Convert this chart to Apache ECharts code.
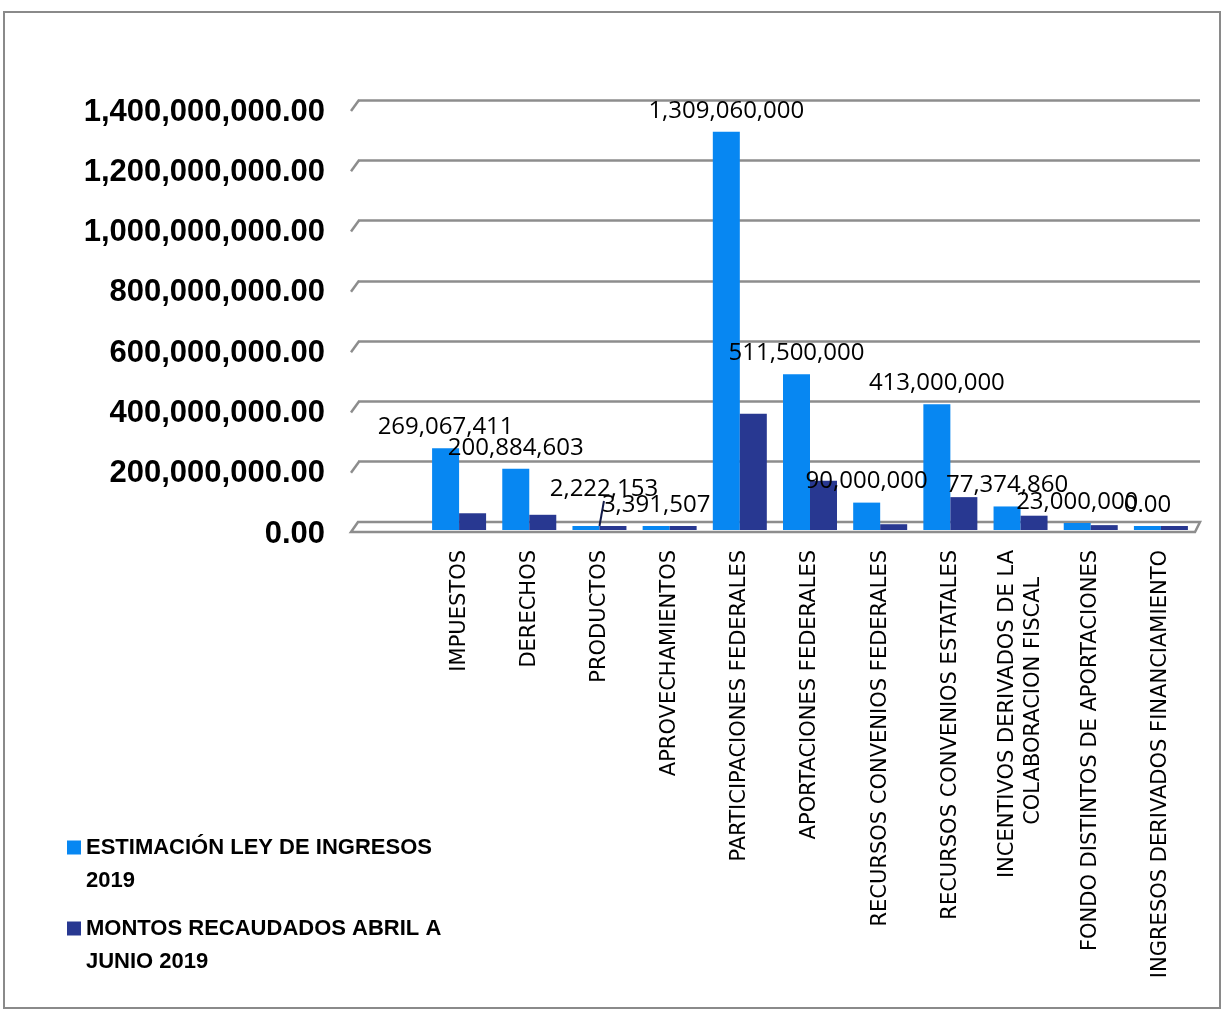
<!DOCTYPE html>
<html>
<head>
<meta charset="utf-8">
<script src="https://cdn.jsdelivr.net/npm/echarts@6/dist/echarts.min.js"></script>
<style>
html,body{margin:0;padding:0;background:#fff;}
#chart{width:1222px;height:1010px;}
</style>
</head>
<body>
<div id="chart"></div>
<script>
const categories = [
  'IMPUESTOS', 'DERECHOS', 'PRODUCTOS', 'APROVECHAMIENTOS',
  'PARTICIPACIONES FEDERALES', 'APORTACIONES FEDERALES',
  'RECURSOS CONVENIOS FEDERALES', 'RECURSOS CONVENIOS ESTATALES',
  'INCENTIVOS DERIVADOS DE LA\nCOLABORACION FISCAL\u00A0\u00A0\u00A0\u00A0',
  'FONDO DISTINTOS DE APORTACIONES', 'INGRESOS DERIVADOS FINANCIAMIENTO'
];
const estimacion = [269067411, 200884603, 2222153, 3391507, 1309060000, 511500000, 90000000, 413000000, 77374860, 23000000, 0];
const recaudado = [55000000, 50000000, 1500000, 1200000, 382000000, 162000000, 19000000, 108000000, 47000000, 16000000, 500000];
const yMin = 0, yMax = 1400000000, yInterval = 200000000;
const seriesNames = ['ESTIMACIÓN LEY DE INGRESOS 2019', 'MONTOS RECAUDADOS ABRIL A JUNIO 2019'];
const legendLabels = ['\nESTIMACIÓN LEY DE INGRESOS\n2019', '\nMONTOS RECAUDADOS ABRIL A\nJUNIO 2019'];

const BLUE = '#0787F2';
const NAVY = '#283891';
const GRID = '#8d8d8d';

const chart = echarts.init(document.getElementById('chart'), null, {renderer: 'canvas'});

const legendBase = {
  orient: 'vertical', left: 67, padding: 0, icon: 'rect', itemWidth: 14, itemHeight: 14,
  selectedMode: false,
  formatter: n => legendLabels[seriesNames.indexOf(n)],
  textStyle: {fontFamily: 'Liberation Sans', fontWeight: 'bold', fontSize: 22, color: '#000', lineHeight: 33}
};

const blueData = estimacion.map((v, i) => i === 2 ? {value: v, labelLine: {show: true}} : v);

chart.setOption({
  animation: false,
  backgroundColor: '#fff',
  legend: [
    Object.assign({}, legendBase, {data: [seriesNames[0]], top: 798}),
    Object.assign({}, legendBase, {data: [seriesNames[1]], top: 879})
  ],
  grid: [
    {left: 358, right: 22, top: 100, bottom: 488},
    {left: 424, right: 26, top: 104, bottom: 480},
    {left: 358, right: 22, top: 112, bottom: 476}
  ],
  xAxis: [
    {gridIndex: 0, type: 'value', min: 0, max: 1, show: false},
    {gridIndex: 1, type: 'category', data: categories,
      axisLine: {show: false}, axisTick: {show: false},
      axisLabel: {interval: 0, rotate: 90, margin: 20, fontFamily: 'DejaVu Sans', fontSize: 21, color: '#000', lineHeight: 26}},
    {gridIndex: 2, type: 'value', min: 0, max: 1, show: false}
  ],
  yAxis: [
    {gridIndex: 0, type: 'value', min: yMin, max: yMax, interval: yInterval,
      axisLine: {show: false}, axisTick: {show: false}, axisLabel: {show: false},
      splitLine: {show: true, lineStyle: {color: GRID, width: 2.5}}},
    {gridIndex: 1, type: 'value', min: yMin, max: yMax, interval: yInterval, show: false, splitLine: {show: false}},
    {gridIndex: 2, type: 'value', min: yMin, max: yMax, interval: yInterval,
      axisLine: {show: false}, axisTick: {show: false}, splitLine: {show: false},
      axisLabel: {margin: 33, fontFamily: 'Liberation Sans', fontWeight: 'bold', fontSize: 31, color: '#000',
        formatter: v => v.toLocaleString('en-US', {minimumFractionDigits: 2, maximumFractionDigits: 2})}}
  ],
  series: [
    {name: seriesNames[0], type: 'bar', xAxisIndex: 1, yAxisIndex: 1, data: blueData,
      barWidth: 27, barGap: '0%', barMinHeight: 4,
      itemStyle: {color: BLUE},
      label: {show: true, position: 'top', distance: 9, fontFamily: 'Open Sans', fontSize: 24, color: '#000',
        formatter: p => p.value === 0 ? '0.00' : p.value.toLocaleString('en-US')},
      labelLayout: p => p.dataIndex === 2 ? {dx: 18, dy: -16} : {},
      labelLine: {show: false, lineStyle: {color: '#111a4a', width: 2}}
    },
    {name: seriesNames[1], type: 'bar', xAxisIndex: 1, yAxisIndex: 1, data: recaudado,
      barWidth: 27, barGap: '0%', barMinHeight: 4,
      itemStyle: {color: NAVY}}
  ]
});

// Decorations: slanted wall edges, floor and chart frame (derived from axis scales)
const x0 = chart.convertToPixel({xAxisIndex: 0}, 0);
const x1 = chart.convertToPixel({xAxisIndex: 0}, 1);
const graphics = [];
for (let v = yMin + yInterval; v <= yMax; v += yInterval) {
  const y = chart.convertToPixel({yAxisIndex: 0}, v);
  graphics.push({type: 'line', z: 1, shape: {x1: x0 - 7, y1: y + 11, x2: x0 + 1, y2: y},
    style: {stroke: GRID, lineWidth: 2.5}});
}
const yb = chart.convertToPixel({yAxisIndex: 0}, 0);
graphics.push({type: 'polygon', z: 1,
  shape: {points: [[x0, yb], [x1, yb], [x1 - 5, yb + 10], [x0 - 7, yb + 10]]},
  style: {fill: '#fff', stroke: GRID, lineWidth: 2.5}});
graphics.push({type: 'rect', z: 100, silent: true,
  shape: {x: 4, y: 12, width: 1216, height: 996},
  style: {fill: 'none', stroke: '#8a8a8a', lineWidth: 2}});
chart.setOption({graphic: graphics});
</script>
</body>
</html>
